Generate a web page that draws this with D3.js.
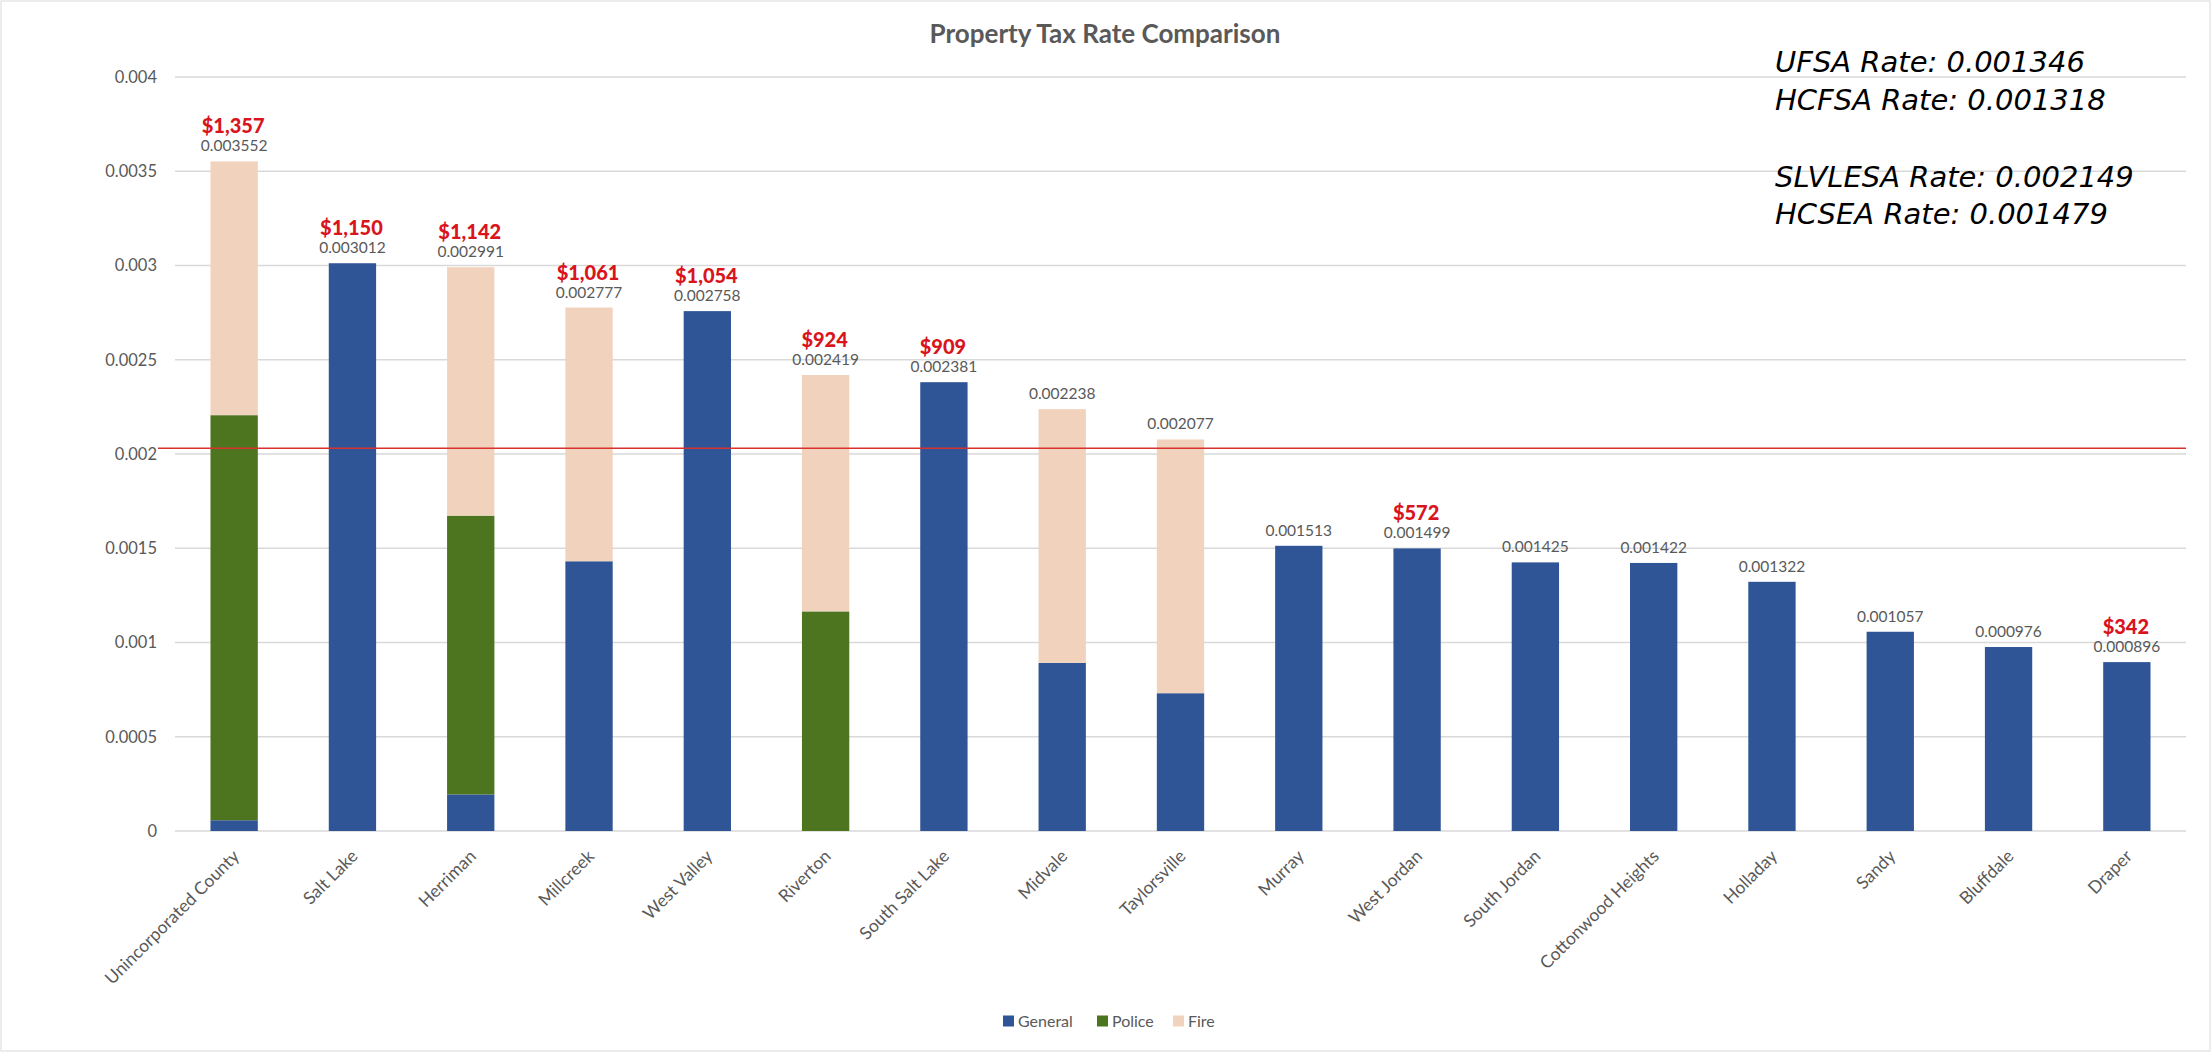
<!DOCTYPE html>
<html>
<head>
<meta charset="utf-8">
<script src="https://cdn.jsdelivr.net/npm/d3@7"></script>
<style>
  html, body { margin: 0; padding: 0; background: #fff; }
  svg { display: block; }
</style>
</head>
<body>
<svg id="chart" width="2211" height="1052"></svg>
<script>
const categories = ["Unincorporated County","Salt Lake","Herriman","Millcreek","West Valley","Riverton","South Salt Lake","Midvale","Taylorsville","Murray","West Jordan","South Jordan","Cottonwood Heights","Holladay","Sandy","Bluffdale","Draper"];
const general = [0.000057,0.003012,0.000194,0.001431,0.002758,0,0.002381,0.000892,0.000731,0.001513,0.001499,0.001425,0.001422,0.001322,0.001057,0.000976,0.000896];
const police  = [0.002149,0,0.001479,0,0,0.001165,0,0,0,0,0,0,0,0,0,0,0];
const fire    = [0.001346,0,0.001318,0.001346,0,0.001254,0,0.001346,0.001346,0,0,0,0,0,0,0,0];
const dollars = [1357,1150,1142,1061,1054,924,909,null,null,null,572,null,null,null,null,null,342];
const seriesNames = ["General","Police","Fire"];
const yTicks = [0,0.0005,0.001,0.0015,0.002,0.0025,0.003,0.0035,0.004];
const referenceLine = 0.00203;
const notes = ["UFSA Rate: 0.001346","HCFSA Rate: 0.001318","","SLVLESA Rate: 0.002149","HCSEA Rate: 0.001479"];
const title = "Property Tax Rate Comparison";

const colors = {General:"#2F5597", Police:"#4D741F", Fire:"#F1D2BC"};
const font = "Lato, 'Open Sans', sans-serif";

const svg = d3.select("#chart");
svg.append("rect").attr("x",1).attr("y",1).attr("width",2209).attr("height",1050)
  .attr("fill","#fff").attr("stroke","#d9d9d9").attr("stroke-width",1);

const x = d3.scaleBand().domain(categories).range([175,2186]).paddingInner(0.6).paddingOuter(0.3);
const y = d3.scaleLinear().domain([0,0.004]).range([831,77]);

// gridlines
svg.append("g").selectAll("line").data(yTicks).join("line")
  .attr("x1",175).attr("x2",2186)
  .attr("y1",d=>y(d)).attr("y2",d=>y(d))
  .attr("stroke","#d9d9d9").attr("stroke-width",1.3);

// y axis labels
const yAxis = d3.axisLeft(y).tickValues(yTicks).tickSize(0).tickPadding(0)
  .tickFormat(d => d === 0 ? "0" : String(+d.toFixed(4)));
const ya = svg.append("g").attr("transform","translate(157,0)").call(yAxis);
ya.select(".domain").remove();
ya.selectAll("text").attr("font-family",font).attr("font-size",16.5).attr("fill","#595959");

// stacked bars
const rows = categories.map((c,i)=>({cat:c, General:general[i], Police:police[i], Fire:fire[i]}));
const stack = d3.stack().keys(seriesNames)(rows);
svg.append("g").selectAll("g").data(stack).join("g")
  .attr("fill", s => colors[s.key])
  .selectAll("rect").data(s => s).join("rect")
  .attr("x", d => x(d.data.cat))
  .attr("width", x.bandwidth())
  .attr("y", d => y(d[1]))
  .attr("height", d => y(d[0]) - y(d[1]));

// reference line
svg.append("line").attr("x1",158).attr("x2",2186)
  .attr("y1",y(referenceLine)).attr("y2",y(referenceLine))
  .attr("stroke","#D8322E").attr("stroke-width",1.5);

// totals labels
const totals = rows.map(r => r.General + r.Police + r.Fire);
svg.append("g").selectAll("text").data(categories).join("text")
  .attr("x", c => x(c) + x.bandwidth()/2)
  .attr("y", (c,i) => y(totals[i]) - 10)
  .attr("text-anchor","middle")
  .attr("font-family",font).attr("font-size",15.5).attr("fill","#595959")
  .text((c,i) => totals[i].toFixed(6));

// dollar labels
const fmt = d3.format("$,");
svg.append("g").selectAll("text").data(categories.filter((c,i)=>dollars[i]!=null)).join("text")
  .attr("x", c => x(c) + x.bandwidth()/2 - 1)
  .attr("y", c => { const i = categories.indexOf(c); return y(totals[i]) - 28; })
  .attr("text-anchor","middle")
  .attr("font-family",font).attr("font-size",20).attr("font-weight","900").attr("fill","#D9141C")
  .text(c => fmt(dollars[categories.indexOf(c)]));

// x labels
svg.append("g").selectAll("text").data(categories).join("text")
  .attr("transform", c => `translate(${x(c) + x.bandwidth()/2 + 2},${853}) rotate(-45)`)
  .attr("text-anchor","end").attr("dy","0.35em")
  .attr("font-family",font).attr("font-size",17.5).attr("fill","#595959")
  .text(c => c);

// title
svg.append("text").attr("x",1105).attr("y",43).attr("text-anchor","middle")
  .attr("font-family",font).attr("font-size",26).attr("font-weight","bold").attr("fill","#595959")
  .text(title);

// notes
const ng = svg.append("g").attr("transform","translate(1775,0)");
const baselines = [72,110,148,187,224];
ng.selectAll("text").data(notes).join("text")
  .attr("x",0).attr("y",(d,i)=>baselines[i])
  .attr("font-family","'DejaVu Sans', sans-serif").attr("font-style","italic")
  .attr("font-size",29).attr("fill","#000")
  .text(d=>d);

// legend
const legendX = [1003,1097,1173];
const lg = svg.append("g").selectAll("g").data(seriesNames).join("g")
  .attr("transform",(d,i)=>`translate(${legendX[i]},1021)`);
lg.append("rect").attr("x",0).attr("y",-5.5).attr("width",11).attr("height",11).attr("fill",d=>colors[d]);
lg.append("text").attr("x",15).attr("y",0).attr("dy","0.35em")
  .attr("font-family",font).attr("font-size",16).attr("fill","#595959").text(d=>d);
</script>
</body>
</html>
